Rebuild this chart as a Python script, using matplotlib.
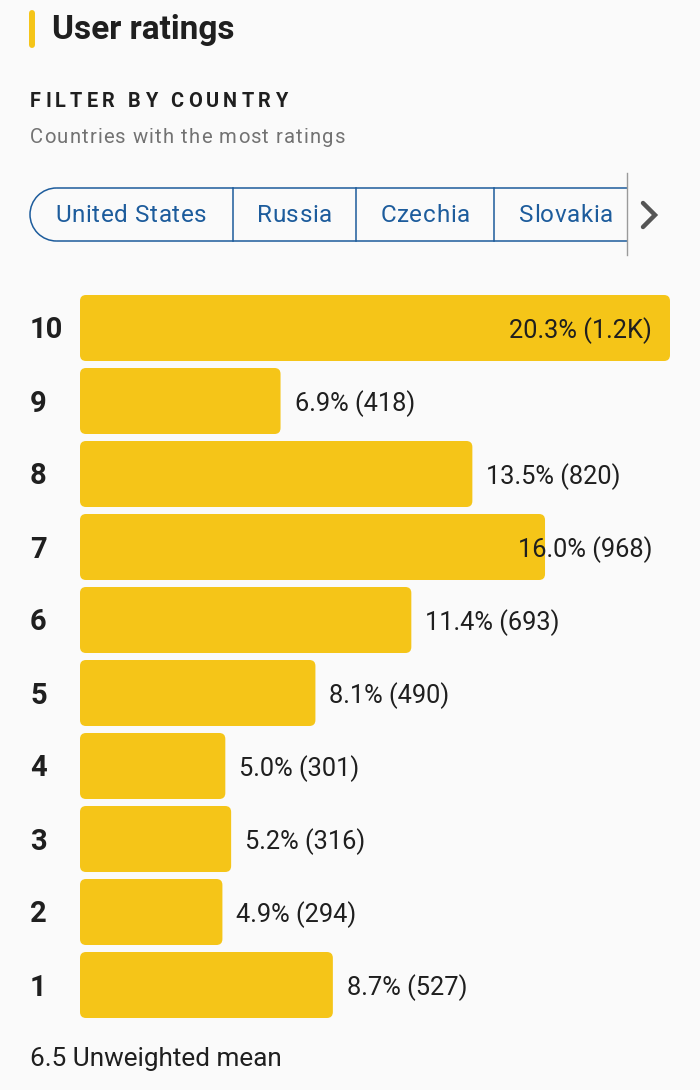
import matplotlib
matplotlib.use('Agg')
import matplotlib.pyplot as plt
from matplotlib.patches import FancyBboxPatch, Arc
from matplotlib.transforms import blended_transform_factory, offset_copy
from matplotlib.font_manager import FontProperties, findfont
from matplotlib.ft2font import FT2Font

plt.rcParams['font.family'] = ['Roboto', 'DejaVu Sans']

# Datos del gráfico
ratings = [10, 9, 8, 7, 6, 5, 4, 3, 2, 1]
percents = [20.3, 6.9, 13.5, 16.0, 11.4, 8.1, 5.0, 5.2, 4.9, 8.7]
counts = ['1.2K', '418', '820', '968', '693', '490', '301', '316', '294', '527']
countries = ['United States', 'Russia', 'Czechia', 'Slovakia']
mean_text = '6.5 Unweighted mean'

BG = '#fafafa'
YELLOW = '#f5c518'
BLUE = '#1d5c9c'
DARK = '#1f1f1f'

W, H = 700, 1090
fig = plt.figure(figsize=(W / 100, H / 100), dpi=100, facecolor=BG)

# capa en píxeles para los adornos
ov = fig.add_axes([0, 0, 1, 1], zorder=2)
ov.set_xlim(0, W)
ov.set_ylim(H, 0)
ov.axis('off')
ov.patch.set_visible(False)


def spaced(x, y, s, size, spacing, weight='normal', ha='left', **kw):
    # texto con espaciado entre letras (avance real de la fuente)
    prop = FontProperties(family='Roboto', weight=weight)
    font = FT2Font(findfont(prop))
    font.set_size(size, 100)
    advs = []
    for ch in s:
        g = font.load_char(ord(ch))
        advs.append(g.linearHoriAdvance / 65536 + spacing)
    total = sum(advs) - spacing
    if ha == 'center':
        x -= total / 2
    for ch, a in zip(s, advs):
        if ch != ' ':
            ov.text(x, y, ch, fontsize=size, fontweight=weight,
                    va='baseline', ha='left', **kw)
        x += a


# título
ov.plot([32, 32], [13, 45], color=YELLOW, lw=4.3, solid_capstyle='round')
ov.text(52, 39, 'User ratings', fontsize=24, fontweight='bold', color=DARK,
        va='baseline', ha='left')

spaced(30, 107, 'FILTER BY COUNTRY', 14.3, 4.2, weight='bold', color=DARK)
spaced(30, 143, 'Countries with the most ratings', 14.6, 1.1, color='#727272')

# pestañas de países
top, bot = 188, 241
r = (bot - top) / 2
right = 627
ov.plot([30 + r, right], [top, top], color=BLUE, lw=1.1)
ov.plot([30 + r, right], [bot, bot], color=BLUE, lw=1.1)
ov.add_patch(Arc((30 + r, top + r), 2 * r, 2 * r, theta1=90, theta2=270,
                 color=BLUE, lw=1.1))
for xd in [233, 356, 494]:
    ov.plot([xd, xd], [top, bot], color=BLUE, lw=1.1)
ov.plot([right, right], [173, 255], color='#9a9a9a', lw=1)
centers = [131, 294.5, 425, 566]
for c, name in zip(centers, countries):
    spaced(c, 222, name, 17.5, 0.6, ha='center', color=BLUE)
ov.plot([643, 655, 643], [203, 215, 227], color='#555555', lw=3.2,
        solid_capstyle='round', solid_joinstyle='miter')

# barras
bar_h = 66 / 73
x0, x1 = 80, 670
y_top, y_bot = 295, 1018
ax = fig.add_axes([x0 / W, 1 - y_bot / H, (x1 - x0) / W, (y_bot - y_top) / H],
                  zorder=1)
ax.set_facecolor('none')
ax.set_xlim(0, max(percents))
ax.set_ylim(min(ratings) - bar_h / 2, max(ratings) + bar_h / 2)
ax.axis('off')

px_x = (x1 - x0) / max(percents)
px_y = 73
rad = 6 / px_x
for rt, p in zip(ratings, percents):
    ax.add_patch(FancyBboxPatch((0, rt - bar_h / 2), p, bar_h,
                                boxstyle='round,pad=0,rounding_size=%f' % rad,
                                mutation_aspect=px_x / px_y,
                                fc=YELLOW, ec='none'))

lab_tr = blended_transform_factory(fig.transFigure, ax.transData)
lab_off = offset_copy(lab_tr, fig=fig, y=-10.5, units='dots')
for rt in ratings:
    ax.text(30 / W, rt, str(rt), transform=lab_off, fontsize=21,
            fontweight='bold', color=DARK, ha='left', va='baseline')

limit = 652
val_tr = offset_copy(ax.transData, fig=fig, x=14, y=-10, units='dots')
right_tr = offset_copy(lab_tr, fig=fig, y=-10, units='dots')
fig.canvas.draw()
renderer = fig.canvas.get_renderer()
for rt, p, c in zip(ratings, percents, counts):
    t = ax.text(p, rt, '%.1f%% (%s)' % (p, c), transform=val_tr,
                fontsize=18.3, color=DARK, ha='left', va='baseline',
                zorder=5, clip_on=False)
    bb = t.get_window_extent(renderer)
    if bb.x1 > limit:
        t.set_transform(right_tr)
        t.set_x(limit / W)
        t.set_ha('right')

ov.text(30, 1066, mean_text, fontsize=18.8, color=DARK, ha='left',
        va='baseline')

fig.savefig('out.png', dpi=100, facecolor=BG)
